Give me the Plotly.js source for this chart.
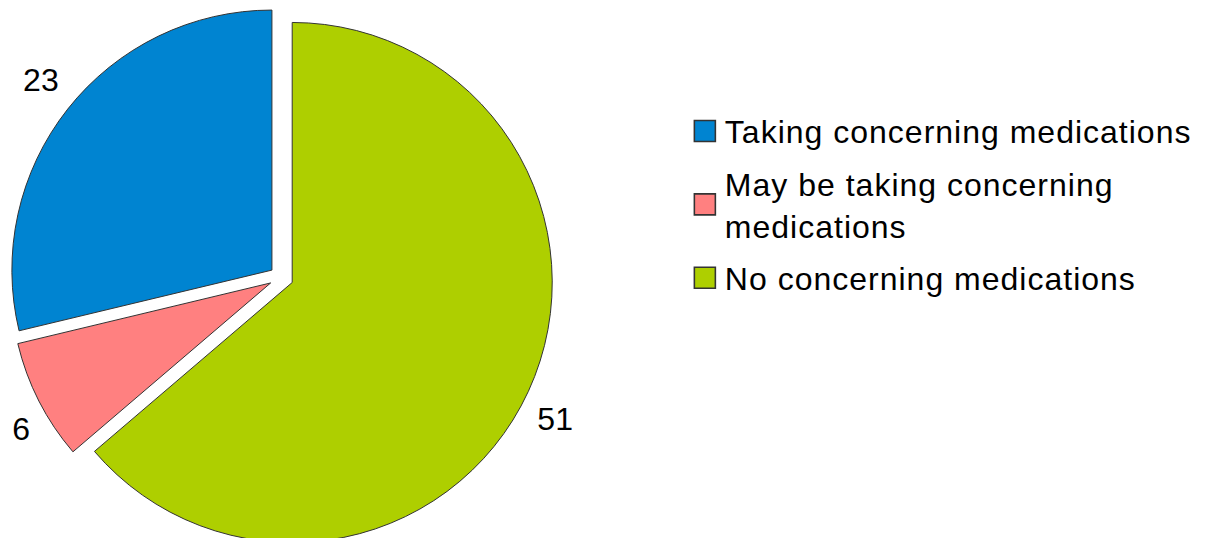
<!DOCTYPE html>
<html>
<head>
<meta charset="utf-8">
<script src="https://cdn.plot.ly/plotly-3.0.1.min.js"></script>
<style>
html,body{margin:0;padding:0;background:#fff;overflow:hidden;}
#chart{width:1210px;height:550px;}
.legendtext{letter-spacing:1px;}
</style>
</head>
<body>
<div id="chart"></div>
<script>
// legend order (top to bottom)
const categories = ["Taking concerning medications", "May be taking concerning<br>medications", "No concerning medications"];
const values = [23, 6, 51];
const colors = ["#0084d1", "#ff8080", "#aecf00"];

// drawn clockwise from 12 o'clock in reverse order, legend reversed back
const trace = {
  type: "pie",
  labels: categories.slice().reverse(),
  values: values.slice().reverse(),
  sort: false,
  direction: "clockwise",
  rotation: 0,
  pull: 0.046,
  marker: {colors: colors.slice().reverse(), line: {color: "#333333", width: 1}},
  textinfo: "value",
  textposition: "outside",
  outsidetextfont: {size: 32, color: "#000000", family: "Liberation Sans, Arial, sans-serif"},
  domain: {x: [0.0077, 0.4573], y: [0, 1]},
  hoverinfo: "label+value",
  automargin: false
};

const layout = {
  width: 1210,
  height: 550,
  margin: {l: 0, r: 0, t: 5, b: 0},
  paper_bgcolor: "#ffffff",
  plot_bgcolor: "#ffffff",
  font: {family: "Liberation Sans, Arial, sans-serif", size: 32, color: "#000000"},
  showlegend: true,
  legend: {
    x: 0.566, xanchor: "left",
    y: 0.819, yanchor: "top",
    font: {size: 32, color: "#000000"},
    traceorder: "reversed",
    tracegroupgap: 0,
    bgcolor: "rgba(0,0,0,0)"
  }
};

Plotly.newPlot("chart", [trace], layout, {displayModeBar: false, staticPlot: true}).then(function(gd){
  // bigger legend swatches
  gd.querySelectorAll(".legendpoints path").forEach(function(p){
    const t = p.getAttribute("transform") || "";
    p.setAttribute("transform", t + " scale(1.75)");
    p.style.strokeWidth = "0.9px";
  });
  // no clipping of the legend box
  gd.querySelectorAll(".legend [clip-path]").forEach(function(e){ e.removeAttribute("clip-path"); });
  // widen vertical spacing between legend entries
  const items = Array.from(gd.querySelectorAll(".legend .traces"));
  const parsed = items.map(function(g){
    const m = /translate\(\s*([-\d.]+)[ ,]+([-\d.]+)\s*\)/.exec(g.getAttribute("transform") || "");
    return {g: g, x: m ? +m[1] : 0, y: m ? +m[2] : 0};
  }).sort(function(a, b){ return a.y - b.y; });
  parsed.forEach(function(o, i){
    o.g.setAttribute("transform", "translate(" + o.x + "," + (o.y + i * 8) + ")");
  });
  // push outside value labels a bit further away vertically from the pie centre
  const sz = gd._fullLayout._size;
  const dom = gd._fullData[0].domain.y;
  const cy = sz.t + sz.h * (1 - (dom[0] + dom[1]) / 2);
  const top = gd.getBoundingClientRect().top;
  gd.querySelectorAll(".slicetext text").forEach(function(t){
    const r = t.getBoundingClientRect();
    const my = (r.top + r.bottom) / 2 - top;
    const dy = my < cy ? -22 : 24;
    t.setAttribute("transform", "translate(0," + dy + ") " + (t.getAttribute("transform") || ""));
  });
});
</script>
</body>
</html>
